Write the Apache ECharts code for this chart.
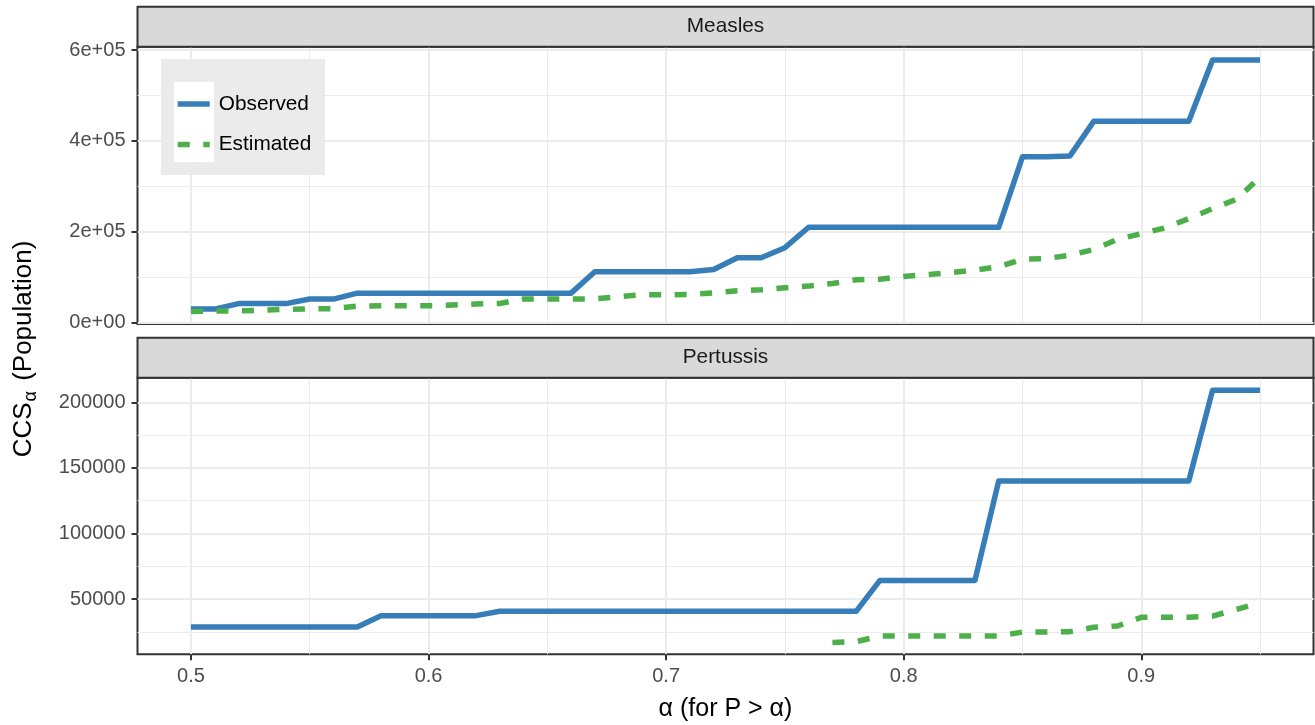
<!DOCTYPE html>
<html><head><meta charset="utf-8">
<script src="https://cdn.jsdelivr.net/npm/echarts@6/dist/echarts.min.js"></script>
<style>html,body{margin:0;padding:0;background:#fff}#chart{width:1315px;height:725px}</style>
</head><body><div id="chart"></div>
<script>
// ---------- data ----------
const alpha = [0.50,0.51,0.52,0.53,0.54,0.55,0.56,0.57,0.58,0.59,
               0.60,0.61,0.62,0.63,0.64,0.65,0.66,0.67,0.68,0.69,
               0.70,0.71,0.72,0.73,0.74,0.75,0.76,0.77,0.78,0.79,
               0.80,0.81,0.82,0.83,0.84,0.85,0.86,0.87,0.88,0.89,
               0.90,0.91,0.92,0.93,0.94,0.95];
const measlesObserved = [30000,30000,42000,42000,42000,52000,52000,65000,65000,65000,
                         65000,65000,65000,65000,65000,65000,65000,112000,112000,112000,
                         112000,112000,117000,143000,143000,165000,210000,210000,210000,210000,
                         210000,210000,210000,210000,210000,365000,365000,367000,443000,443000,
                         443000,443000,443000,578000,578000,578000];
const measlesEstimated = [24600,25600,26300,27500,29300,30700,30700,36600,37300,37300,
                          37300,38800,41000,42400,52000,52000,52000,52700,57000,61400,
                          61400,62000,65500,70200,72400,76800,80500,86300,94400,95800,
                          101700,106000,110500,115600,123000,139700,141200,148500,161000,183600,
                          196000,208500,229000,251000,271400,320400];
const pertussisObserved = [28650,28650,28650,28650,28650,28650,28650,28650,37300,37300,
                           37300,37300,37300,40600,40600,40600,40600,40600,40600,40600,
                           40600,40600,40600,40600,40600,40600,40600,40600,40600,64200,
                           64200,64200,64200,64200,140000,140000,140000,140000,140000,140000,
                           140000,140000,140000,209100,209100,209100];
const pertussisEstimated = [null,null,null,null,null,null,null,null,null,null,
                            null,null,null,null,null,null,null,null,null,null,
                            null,null,null,null,null,null,null,16800,17500,21800,
                            21800,21800,21800,21800,21800,24800,24800,25100,28400,29400,
                            36000,36000,36000,37000,42000,47200];
const panels = ['Measles', 'Pertussis'];
const seriesNames = ['Observed', 'Estimated'];
const xTicks = [0.5, 0.6, 0.7, 0.8, 0.9];
const xMinorTicks = [0.55, 0.65, 0.75, 0.85, 0.95];
const measlesTicks = [0, 200000, 400000, 600000];
const measlesTickLabels = ['0e+00', '2e+05', '4e+05', '6e+05'];
const measlesMinorTicks = [100000, 300000, 500000];
const pertussisTicks = [50000, 100000, 150000, 200000];
const pertussisTickLabels = ['50000', '100000', '150000', '200000'];
const pertussisMinorTicks = [25000, 75000, 125000, 175000];

// ---------- layout / style ----------
const FONT = '"Liberation Sans", Arial, Helvetica, sans-serif';
const L = 137.5, W = 1176;
const T1 = 46.7, H1 = 277.3, T2 = 377.7, H2 = 276.6, STRIP = 40;
const XMIN = 0.4775, XMAX = 0.9725;
const YR = [[-2860, 607260], [7830, 218760]];
const BLUE = '#377EB8', GREEN = '#4DAF4A';
const GRID_C = '#ebebeb', DARK = '#333333';
const LW = 5.5, DASH = [12, 13.5];

const yTickSets = [[measlesTicks, measlesTickLabels, measlesMinorTicks],
                   [pertussisTicks, pertussisTickLabels, pertussisMinorTicks]];

const grids = [T1, T2].map((t, i) => ({
  left: L, width: W, top: t, height: i === 0 ? H1 : H2,
  show: true, borderColor: DARK, borderWidth: 2, backgroundColor: '#fff',
  containLabel: false, outerBoundsMode: 'none'
}));

const xAxes = [], yAxes = [];
[0, 1].forEach(g => {
  xAxes.push({type: 'value', gridIndex: g, min: XMIN, max: XMAX,
    axisLine: {show: false}, axisLabel: {show: false},
    axisTick: {show: false, customValues: xMinorTicks},
    splitLine: {show: true, lineStyle: {color: GRID_C, width: 1}}});
  const bottom = g === 1;
  xAxes.push({type: 'value', gridIndex: g, min: XMIN, max: XMAX, position: 'bottom',
    axisLine: {show: false},
    axisLabel: {show: bottom, customValues: xTicks, margin: 12, fontSize: 20, color: '#4d4d4d', fontFamily: FONT,
      formatter: v => String(v)},
    axisTick: {show: bottom, customValues: xTicks, length: 6, lineStyle: {color: DARK, width: 2}},
    splitLine: {show: true, lineStyle: {color: GRID_C, width: 2}}});
  const [ticks, labels, minor] = yTickSets[g];
  yAxes.push({type: 'value', gridIndex: g, min: YR[g][0], max: YR[g][1],
    axisLine: {show: false}, axisLabel: {show: false},
    axisTick: {show: false, customValues: minor},
    splitLine: {show: true, lineStyle: {color: GRID_C, width: 1}}});
  yAxes.push({type: 'value', gridIndex: g, min: YR[g][0], max: YR[g][1], position: 'left',
    axisLine: {show: false},
    axisLabel: {show: true, customValues: ticks, margin: 12, fontSize: 20, color: '#4d4d4d', fontFamily: FONT,
      formatter: v => labels[ticks.indexOf(v)]},
    axisTick: {show: true, customValues: ticks, length: 6, lineStyle: {color: DARK, width: 2}},
    splitLine: {show: true, lineStyle: {color: GRID_C, width: 2}}});
});

const panelData = [[measlesObserved, measlesEstimated], [pertussisObserved, pertussisEstimated]];
const series = [];
panelData.forEach((pair, g) => {
  pair.forEach((vals, k) => {
    series.push({
      name: seriesNames[k], type: 'line', xAxisIndex: 2 * g + 1, yAxisIndex: 2 * g + 1,
      data: alpha.map((a, i) => [a, vals[i]]),
      symbol: 'none', connectNulls: false, silent: true, z: 3,
      itemStyle: {color: k === 0 ? BLUE : GREEN},
      lineStyle: {color: k === 0 ? BLUE : GREEN, width: LW, join: 'round',
        type: k === 0 ? 'solid' : DASH, cap: 'butt'}
    });
  });
});

const graphic = [];
[[T1 - STRIP, panels[0]], [T2 - STRIP, panels[1]]].forEach(([y, label]) => {
  graphic.push({type: 'rect', z: 5, shape: {x: L, y: y, width: W, height: STRIP},
    style: {fill: '#d9d9d9', stroke: DARK, lineWidth: 2}});
  graphic.push({type: 'text', z: 6, x: L + W / 2, y: y + STRIP / 2,
    style: {text: label, fill: '#1a1a1a', font: '20.8px ' + FONT, align: 'center', verticalAlign: 'middle'}});
});
graphic.push({type: 'rect', z: 5, shape: {x: 161, y: 59, width: 164, height: 116}, style: {fill: '#ebebeb'}});
graphic.push({type: 'rect', z: 5, shape: {x: 174, y: 82, width: 40, height: 80}, style: {fill: '#ffffff'}});
graphic.push({type: 'text', z: 6, x: L + W / 2, y: 709,
  style: {text: 'α (for P > α)', fill: '#000', font: '25px ' + FONT, align: 'center', verticalAlign: 'middle'}});
graphic.push({type: 'text', z: 6, x: 24, y: 349, rotation: Math.PI / 2,
  style: {text: '{n|CCS}{s|α}{n| (Population)}', fill: '#000', align: 'center', verticalAlign: 'middle',
    rich: {n: {fontSize: 26, fontFamily: FONT, fill: '#000'},
           s: {fontSize: 18, fontFamily: FONT, fill: '#000', padding: [14, 3, 0, 1]}}}});

const chart = echarts.init(document.getElementById('chart'), null, {renderer: 'canvas'});
chart.setOption({
  animation: false,
  backgroundColor: '#ffffff',
  grid: grids, xAxis: xAxes, yAxis: yAxes, series: series,
  legend: {orient: 'vertical', left: 175, top: 93.6, padding: 0,
    itemWidth: 32, itemHeight: 24, itemGap: 19.4, selectedMode: false, z: 10,
    itemStyle: {opacity: 0},
    data: [
      {name: seriesNames[0], itemStyle: {opacity: 0}, lineStyle: {color: BLUE, width: LW, type: 'solid', cap: 'butt'}},
      {name: seriesNames[1], itemStyle: {opacity: 0}, lineStyle: {color: GREEN, width: LW, type: DASH, cap: 'butt'}}
    ],
    textStyle: {fontSize: 20.8, color: '#000', fontFamily: FONT, padding: [0, 0, 0, 4]}},
  graphic: {elements: graphic}
});
</script></body></html>
